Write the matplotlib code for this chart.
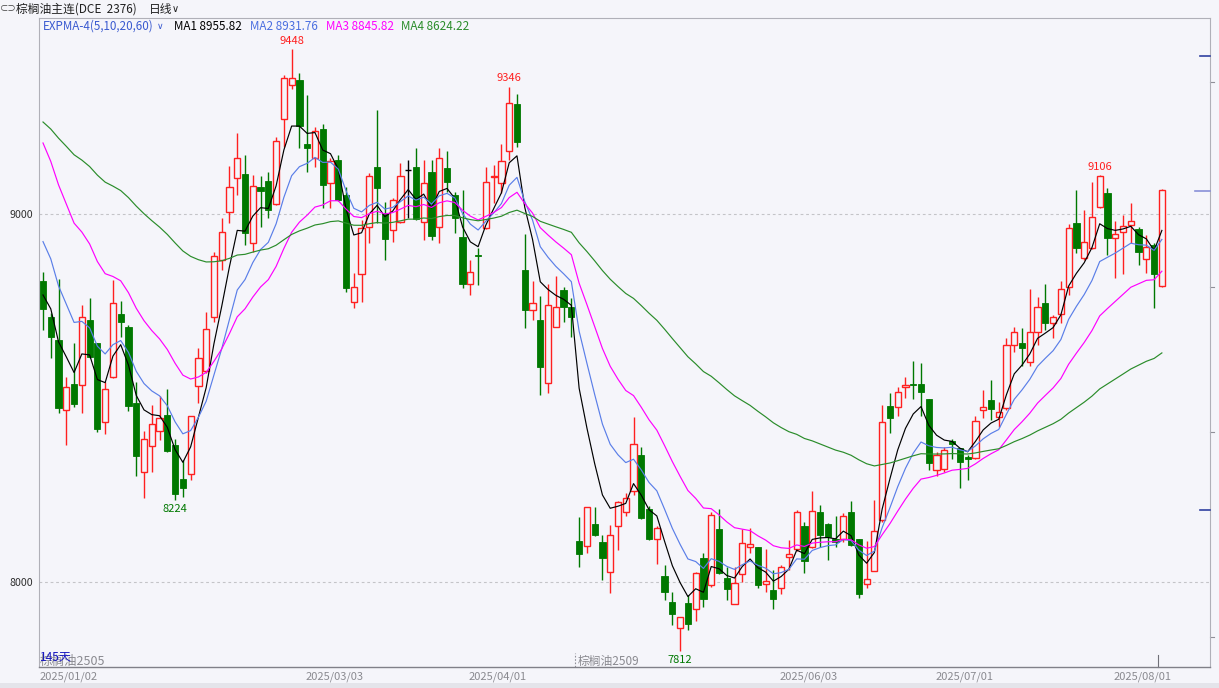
import matplotlib
matplotlib.use('Agg')
import matplotlib.pyplot as plt
import matplotlib.transforms as mtransforms
import numpy as np

plt.rcParams['font.family'] = ['Noto Sans CJK SC', 'DejaVu Sans']

# ---------------- data ----------------
opens = [8819, 8719, 8658, 8467, 8538, 8534, 8712, 8650, 8436, 8557,
         8728, 8694, 8487, 8299, 8370, 8409, 8454, 8372, 8280, 8294,
         8533, 8573, 8721, 8875, 9005, 9098, 9109, 8922, 9074, 9090,
         9027, 9257, 9350, 9364, 9189, 9151, 9230, 9085, 9147, 9052,
         8762, 8836, 8965, 9129, 9004, 8957, 8979, 9120, 9129, 8979,
         9113, 8965, 9124, 9052, 8938, 8810, 8889, 8961, 9100, 9083,
         9171, 9299, 8848, 8739, 8712, 8540, 8694, 8794, 8748, 8112,
         8099, 8158, 8108, 8026, 8153, 8190, 8248, 8345, 8198, 8117,
         8016, 7945, 7874, 7942, 7927, 8065, 7992, 8144, 8010, 7940,
         8021, 8096, 8096, 7994, 7978, 7983, 8067, 8089, 8153, 8096,
         8190, 8157, 8117, 8117, 8191, 8116, 7994, 8031, 8169, 8478,
         8476, 8529, 8537, 8538, 8497, 8304, 8306, 8383, 8363, 8341,
         8336, 8467, 8495, 8448, 8472, 8644, 8650, 8599, 8680, 8759,
         8703, 8727, 8801, 8976, 8880, 8907, 9018, 9058, 8934, 8952,
         8970, 8959, 8877, 8916, 8805]
highs = [8842, 8731, 8823, 8557, 8650, 8753, 8772, 8650, 8544, 8821,
         8764, 8698, 8544, 8410, 8481, 8506, 8524, 8389, 8332, 8451,
         8636, 8734, 8898, 8989, 9130, 9220, 9160, 9106, 9103, 9115,
         9209, 9378, 9448, 9384, 9323, 9236, 9245, 9151, 9160, 9074,
         8839, 8984, 9112, 9283, 9033, 9043, 9139, 9147, 9179, 9147,
         9147, 9179, 9170, 9061, 9065, 8875, 8908, 9127, 9133, 9190,
         9346, 9326, 8946, 8818, 8777, 8809, 8832, 8801, 8771, 8176,
         8205, 8203, 8128, 8155, 8219, 8241, 8448, 8366, 8207, 8152,
         8046, 7972, 7906, 7965, 8027, 8080, 8190, 8198, 8042, 8042,
         8144, 8146, 8096, 8090, 8033, 8046, 8114, 8196, 8164, 8248,
         8209, 8160, 8178, 8187, 8220, 8117, 8112, 8223, 8481, 8513,
         8530, 8558, 8601, 8594, 8497, 8354, 8368, 8388, 8363, 8345,
         8451, 8522, 8549, 8490, 8663, 8694, 8690, 8795, 8775, 8810,
         8726, 8819, 8973, 9065, 9011, 9088, 9106, 9070, 8981, 8997,
         9029, 8964, 8943, 8922, 9067]
lows = [8685, 8609, 8459, 8372, 8476, 8459, 8609, 8408, 8402, 8554,
        8666, 8465, 8289, 8229, 8300, 8386, 8354, 8224, 8232, 8277,
        8486, 8568, 8707, 8848, 8976, 9052, 8916, 8898, 8965, 8989,
        9024, 9183, 9339, 9179, 9115, 9129, 9016, 9016, 9035, 8789,
        8744, 8762, 8922, 8976, 8875, 8925, 8975, 8988, 8984, 8929,
        8929, 8920, 9061, 8948, 8798, 8780, 8807, 8959, 9030, 9056,
        9147, 9183, 8690, 8712, 8508, 8513, 8692, 8707, 8667, 8042,
        8078, 8126, 8006, 7969, 8087, 8178, 8237, 8171, 8114, 8049,
        7951, 7883, 7812, 7870, 7895, 7933, 7987, 8022, 7951, 7939,
        8001, 8078, 7983, 7974, 7926, 7967, 8033, 8083, 8024, 8092,
        8096, 8060, 8096, 8110, 8099, 7956, 7983, 8029, 8164, 8404,
        8451, 8499, 8496, 8451, 8304, 8288, 8300, 8334, 8255, 8277,
        8334, 8445, 8440, 8422, 8467, 8626, 8587, 8587, 8644, 8685,
        8662, 8703, 8780, 8893, 8875, 8904, 9015, 8889, 8825, 8837,
        8920, 8861, 8839, 8744, 8802]
closes = [8742, 8667, 8473, 8530, 8484, 8721, 8612, 8416, 8525, 8758,
          8707, 8479, 8342, 8389, 8429, 8446, 8357, 8239, 8256, 8451,
          8610, 8688, 8886, 8952, 9074, 9152, 8949, 9076, 9063, 9011,
          9199, 9369, 9369, 9239, 9179, 9226, 9079, 9144, 9038, 8798,
          8801, 8961, 9103, 9070, 8931, 9038, 9103, 9120, 8986, 9083,
          8941, 9151, 9086, 8988, 8810, 8843, 8885, 9088, 9103, 9144,
          9302, 9196, 8739, 8757, 8585, 8753, 8747, 8747, 8719, 8076,
          8203, 8128, 8066, 8128, 8217, 8229, 8375, 8173, 8117, 8146,
          7972, 7912, 7906, 7885, 8024, 7953, 8182, 8024, 7981, 7997,
          8105, 8103, 7992, 8003, 7953, 8040, 8075, 8190, 8058, 8193,
          8128, 8123, 8110, 8180, 8101, 7968, 8007, 8139, 8434, 8445,
          8515, 8535, 8535, 8517, 8324, 8345, 8359, 8375, 8327, 8334,
          8438, 8476, 8469, 8463, 8644, 8678, 8637, 8680, 8747, 8705,
          8721, 8795, 8961, 8908, 8925, 8991, 9103, 8934, 8946, 8967,
          8981, 8898, 8910, 8837, 9065]

ema_periods = [5, 10, 20, 60]
ema_start = [8780, 8925, 9193, 9250]          # indicator values at the first candle
ema_names = ['MA1', 'MA2', 'MA3', 'MA4']
ema_values = ['8955.82', '8931.76', '8845.82', '8624.22']

date_labels = ['2025/01/02', '2025/03/03', '2025/04/01', '2025/06/03', '2025/07/01', '2025/08/01']
date_index = [4, 40, 61, 101, 121, 144]

high_marks = [(32, '9448'), (60, '9346'), (136, '9106')]
low_marks = [(17, '8224'), (82, '7812')]

y_ticks = [8000, 9000]
contract_labels = ['棕榈油2505', '棕榈油2509']
contract_switch = 68.5
day_count = '145天'

# ---------------- style ----------------
W, Hh = 1219, 688
bg = '#f5f5fa'
red = '#ff2020'
green = '#007800'
ema_colors = ['#000000', '#5a7ee8', '#ff00ff', '#2a8c2a']
legend_colors = ['#000000', '#4a6ee0', '#ff00ff', '#2a8c2a']

fig = plt.figure(figsize=(W / 100, Hh / 100), dpi=100, facecolor=bg)


def fx(px):
    return px / W


def fy(py):
    return 1 - py / Hh


ax_l, ax_r, ax_t, ax_b = 39, 1210, 18, 667
ax = fig.add_axes([fx(ax_l), fy(ax_b), fx(ax_r - ax_l), (ax_b - ax_t) / Hh])
ax.set_facecolor(bg)

step = 7.77
x0px = 43
ax.set_xlim((ax_l - x0px) / step, (ax_r - x0px) / step)
ppx = 1000 / 368.0
ax.set_ylim(9000 - (ax_b - 214) * ppx, 9000 + (214 - ax_t) * ppx)

O = np.array(opens, float)
C = np.array(closes, float)
Hi = np.array(highs, float)
Lo = np.array(lows, float)
x = np.arange(len(C))
up = C > O
dn = C < O
fl = C == O
bw = 0.80

ax.vlines(x[up], Lo[up], Hi[up], color=red, lw=1.0, zorder=2)
ax.vlines(x[dn], Lo[dn], Hi[dn], color=green, lw=1.0, zorder=2)
ax.vlines(x[fl], Lo[fl], Hi[fl], color='black', lw=1.0, zorder=2)
ax.bar(x[up], (C - O)[up], bottom=O[up], width=bw, facecolor=bg, edgecolor=red,
       linewidth=1.0, zorder=3)
ax.bar(x[dn], (O - C)[dn], bottom=C[dn], width=bw, facecolor=green, edgecolor=green,
       linewidth=0.6, zorder=3)
ax.hlines(C[fl], x[fl] - bw / 2, x[fl] + bw / 2, color='black', lw=1.0, zorder=3)

# EXPMA lines computed from closes
for n, s, col in zip(ema_periods, ema_start, ema_colors):
    a = 2.0 / (n + 1)
    vals = [s]
    for c in C[1:]:
        vals.append(vals[-1] + a * (c - vals[-1]))
    ax.plot(x, vals, color=col, lw=0.85, zorder=4)

# grid lines
for yt in y_ticks:
    ax.axhline(yt, color='#c4c4c8', lw=0.8, ls=(0, (2.5, 2.5)), zorder=1)
ax.set_yticks(y_ticks)
ax.set_yticklabels([str(v) for v in y_ticks])
ax.tick_params(axis='y', length=0, labelsize=7.7, labelcolor='#303030', pad=4)
ax.set_xticks([])

for sp in ['left', 'right', 'top']:
    ax.spines[sp].set_color('#b0b0b8')
    ax.spines[sp].set_linewidth(0.8)
ax.spines['bottom'].set_color('#808088')
ax.spines['bottom'].set_linewidth(1.0)

# high / low marks
for i, t in high_marks:
    ax.annotate(t, (i, Hi[i]), xytext=(0, 6), textcoords='offset points',
                ha='center', va='center', color=red, fontsize=8, zorder=5)
for i, t in low_marks:
    ax.annotate(t, (i, Lo[i]), xytext=(0, -6.5), textcoords='offset points',
                ha='center', va='center', color=green, fontsize=8, zorder=5)

# date labels
trans = mtransforms.blended_transform_factory(ax.transData, fig.transFigure)
for k, (lab, idx) in enumerate(zip(date_labels, date_index)):
    if k == 0:
        fig.text(fx(40), fy(676.5), lab, ha='left', va='center', fontsize=8, color='#8a8a90')
    else:
        ax.text(idx - 19 / step, fy(676.5), lab, transform=trans, ha='center', va='center',
                fontsize=8, color='#8a8a90', clip_on=False)

# tick for last date and contract switch marker
btrans = mtransforms.blended_transform_factory(ax.transData, ax.transAxes)
ax.plot([date_index[-1] - 0.5, date_index[-1] - 0.5], [0, 12 / 649], color='#707078',
        lw=0.8, transform=btrans, clip_on=False)
ax.plot([contract_switch, contract_switch], [0, 14 / 649], color='#909098', lw=0.8,
        ls=(0, (1.5, 1.5)), transform=btrans, clip_on=False)

# contract names and day count (overlapping, as in the original)
fig.text(fx(40), fy(661), contract_labels[0], ha='left', va='center', fontsize=9, color='#8a8a90')
fig.text(fx(40), fy(657), day_count, ha='left', va='center', fontsize=8.7, color='#1a1ac0')
fig.text(fx(578), fy(661), contract_labels[1], ha='left', va='center', fontsize=8.5, color='#8a8a90')

# right side markers
rtrans = mtransforms.blended_transform_factory(ax.transAxes, ax.transData)
def pval(py):
    return 9000 - (py - 214) * ppx
for py, x1, col, lw in [(56, 1200, '#3040a0', 1.2), (191, 1195, '#8890d8', 1.2), (510, 1200, '#3040a0', 1.2)]:
    ax.plot([(x1 - ax_l) / (ax_r - ax_l), 1.0], [pval(py), pval(py)], color=col, lw=lw,
            transform=rtrans, clip_on=False, zorder=6)
for py in [82, 287, 432, 637]:
    ax.plot([1.0, 1.0 + 4 / (ax_r - ax_l)], [pval(py), pval(py)], color='#909098', lw=0.8,
            transform=rtrans, clip_on=False)

# header
fig.text(fx(0), fy(9), '⊂⊃', ha='left', va='center', fontsize=6, color='#404040')
fig.text(fx(16), fy(9), '棕榈油主连(DCE  2376)', ha='left', va='center', fontsize=8.5, color='#202020')
fig.text(fx(149), fy(9), '日线', ha='left', va='center', fontsize=8.5, color='#202020')
fig.text(fx(172), fy(9.5), '∨', ha='left', va='center', fontsize=7, color='#202020',
         family='DejaVu Sans')

# legend row
fig.text(fx(43), fy(26), 'EXPMA-4(5,10,20,60)', ha='left', va='center', fontsize=8.4, color='#3a5ad0')
fig.text(fx(157), fy(26.5), '∨', ha='left', va='center', fontsize=6.5, color='#3a5ad0',
         family='DejaVu Sans')
leg_x = [174, 250, 326, 401]
for lx, nm, vv, col in zip(leg_x, ema_names, ema_values, legend_colors):
    fig.text(fx(lx), fy(26), f'{nm} {vv}', ha='left', va='center', fontsize=8.4, color=col)

# bottom strip
fig.patches.append(plt.Rectangle((0, 0), 1, 5 / Hh, transform=fig.transFigure,
                                 facecolor='#e4e4ea', edgecolor='none'))

fig.savefig('out.png', dpi=100, facecolor=bg)
